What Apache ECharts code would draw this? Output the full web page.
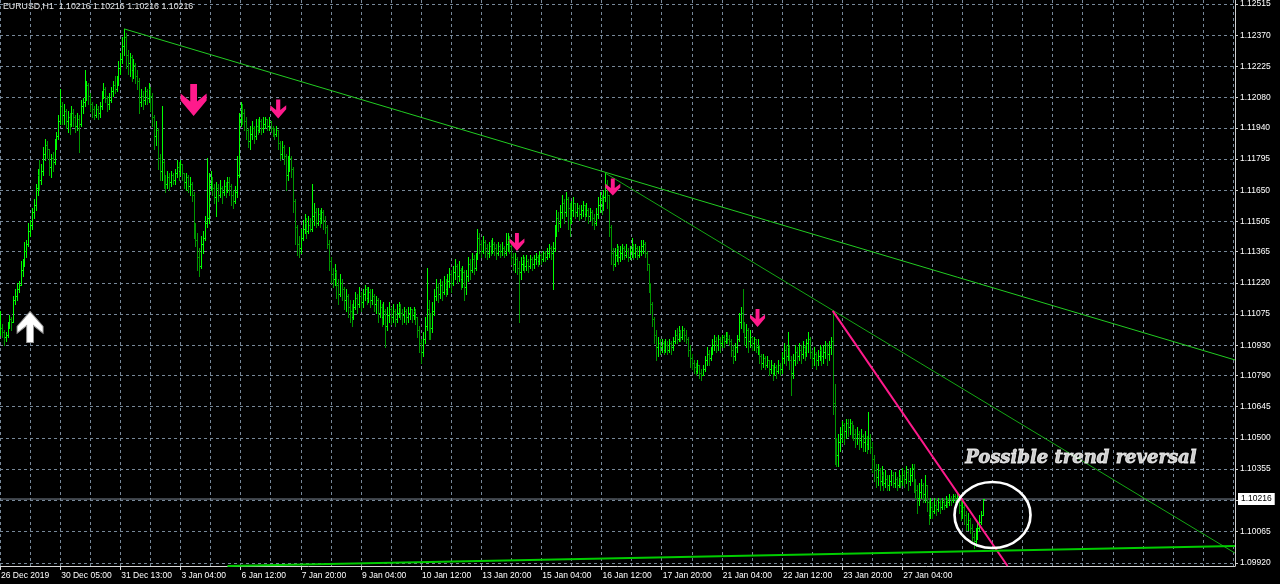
<!DOCTYPE html>
<html><head><meta charset="utf-8">
<script src="https://cdn.jsdelivr.net/npm/echarts@6/dist/echarts.min.js"></script>
<style>html,body{margin:0;padding:0;background:#000;}#c{width:1280px;height:584px;}</style>
</head><body><div id="c"></div>
<script>
// ---------- data ----------
const symbolTitle = 'EURUSD,H1  1.10216 1.10216 1.10216 1.10216';
const timeLabels = ['26 Dec 2019','30 Dec 05:00','31 Dec 13:00','3 Jan 04:00','6 Jan 12:00','7 Jan 20:00','9 Jan 04:00','10 Jan 12:00','13 Jan 20:00','15 Jan 04:00','16 Jan 12:00','17 Jan 20:00','21 Jan 04:00','22 Jan 12:00','23 Jan 20:00','27 Jan 04:00','28 Jan 12:00'];
const barsPerLabel = 32;
const barsPerGrid = 16;
const barSlots = 658;
const priceMin = 1.09905;
const priceMax = 1.12534;
const yTickValues = [1.09920,1.10065,1.10210,1.10355,1.10500,1.10645,1.10790,1.10930,1.11075,1.11220,1.11365,1.11505,1.11650,1.11795,1.11940,1.12080,1.12225,1.12370,1.12515];
const hiddenTick = 1.10210;
const bidPrice = 1.10216;
const firstOpen = 1.1100;

const closes = [
1.1101,1.1099,1.1097,1.1098,1.1102,1.1105,1.1104,1.1114,1.1116,1.1119,1.1121,1.1128,1.1130,1.1137,1.1140,1.1146,1.1149,1.1155,1.1158,1.1166,
1.1172,1.1170,1.1174,1.1182,1.1186,1.1184,1.1176,1.1180,1.1178,1.1186,1.1190,1.1197,1.1204,1.1200,1.1202,1.1197,1.1199,1.1196,1.1201,1.1199,
1.1195,1.1198,1.1196,1.1204,1.1206,1.1210,1.1214,1.1209,1.1205,1.1203,1.1200,1.1203,1.1201,1.1204,1.1209,1.1212,1.1208,1.1205,1.1207,1.1211,
1.1214,1.1212,1.1216,1.1222,1.1226,1.1232,1.1236,1.1228,1.1224,1.1227,1.1221,1.1223,1.1218,1.1216,1.1206,1.1209,1.1207,1.1211,1.1208,1.1212,
1.1209,1.1199,1.1190,1.1193,1.1180,1.1174,1.1178,1.1170,1.1168,1.1171,1.1169,1.1172,1.1170,1.1173,1.1176,1.1174,1.1177,1.1173,1.1169,1.1171,
1.1167,1.1168,1.1163,1.1148,1.1142,1.1134,1.1130,1.1140,1.1143,1.1150,1.1152,1.1168,1.1170,1.1166,1.1162,1.1166,1.1163,1.1166,1.1164,1.1167,
1.1165,1.1169,1.1167,1.1163,1.1160,1.1164,1.1172,1.1198,1.1203,1.1201,1.1197,1.1193,1.1188,1.1191,1.1194,1.1190,1.1195,1.1193,1.1197,1.1194,
1.1196,1.1198,1.1195,1.1197,1.1194,1.1193,1.1191,1.1193,1.1187,1.1182,1.1185,1.1181,1.1172,1.1177,1.1180,1.1175,1.1160,1.1148,1.1140,1.1138,
1.1143,1.1147,1.1150,1.1146,1.1149,1.1147,1.1153,1.1155,1.1150,1.1154,1.1152,1.1155,1.1151,1.1148,1.1140,1.1132,1.1126,1.1124,1.1127,1.1121,
1.1117,1.1122,1.1119,1.1114,1.1116,1.1111,1.1109,1.1106,1.1111,1.1115,1.1112,1.1116,1.1113,1.1117,1.1119,1.1115,1.1118,1.1114,1.1116,1.1112,
1.1114,1.1108,1.1111,1.1106,1.1109,1.1102,1.1107,1.1110,1.1106,1.1109,1.1105,1.1108,1.1111,1.1108,1.1107,1.1109,1.1106,1.1108,1.1110,1.1107,
1.1109,1.1106,1.1100,1.1094,1.1090,1.1096,1.1102,1.1110,1.1105,1.1101,1.1109,1.1116,1.1120,1.1117,1.1121,1.1118,1.1122,1.1119,1.1123,1.1126,
1.1122,1.1127,1.1130,1.1125,1.1128,1.1124,1.1127,1.1120,1.1125,1.1131,1.1128,1.1133,1.1129,1.1134,1.1143,1.1140,1.1137,1.1141,1.1138,1.1136,
1.1139,1.1137,1.1140,1.1138,1.1136,1.1139,1.1137,1.1138,1.1136,1.1140,1.1142,1.1139,1.1134,1.1131,1.1133,1.1129,1.1127,1.1131,1.1133,1.1130,
1.1132,1.1130,1.1133,1.1131,1.1133,1.1134,1.1132,1.1135,1.1133,1.1136,1.1134,1.1136,1.1138,1.1136,1.1138,1.1146,1.1152,1.1150,1.1155,1.1159,
1.1155,1.1161,1.1157,1.1152,1.1156,1.1159,1.1155,1.1157,1.1154,1.1156,1.1158,1.1154,1.1156,1.1153,1.1155,1.1152,1.1150,1.1154,1.1158,1.1161,
1.1158,1.1162,1.1168,1.1163,1.1148,1.1136,1.1131,1.1135,1.1138,1.1134,1.1136,1.1138,1.1135,1.1137,1.1134,1.1137,1.1139,1.1136,1.1138,1.1135,
1.1137,1.1139,1.1140,1.1136,1.1131,1.1121,1.1112,1.1105,1.1098,1.1092,1.1094,1.1092,1.1094,1.1091,1.1093,1.1091,1.1094,1.1092,1.1095,1.1098,
1.1096,1.1099,1.1097,1.1100,1.1098,1.1096,1.1091,1.1087,1.1085,1.1083,1.1081,1.1084,1.1080,1.1079,1.1082,1.1086,1.1089,1.1087,1.1090,1.1093,
1.1095,1.1093,1.1096,1.1094,1.1097,1.1095,1.1097,1.1096,1.1095,1.1091,1.1088,1.1092,1.1096,1.1104,1.1108,1.1102,1.1097,1.1100,1.1095,1.1097,
1.1094,1.1096,1.1092,1.1093,1.1088,1.1085,1.1087,1.1084,1.1086,1.1082,1.1084,1.1080,1.1083,1.1081,1.1084,1.1082,1.1087,1.1091,1.1088,1.1092,
1.1086,1.1080,1.1086,1.1090,1.1088,1.1091,1.1089,1.1092,1.1090,1.1094,1.1096,1.1090,1.1087,1.1089,1.1086,1.1088,1.1091,1.1088,1.1090,1.1093,
1.1089,1.1092,1.1095,1.1066,1.1045,1.1042,1.1048,1.1052,1.1056,1.1053,1.1057,1.1055,1.1057,1.1054,1.1052,1.1050,1.1052,1.1049,1.1051,1.1048,
1.1050,1.1047,1.1050,1.1046,1.1040,1.1035,1.1032,1.1035,1.1030,1.1033,1.1029,1.1031,1.1028,1.1030,1.1033,1.1029,1.1031,1.1028,1.1032,1.1030,
1.1033,1.1031,1.1034,1.1030,1.1033,1.1036,1.1030,1.1026,1.1022,1.1025,1.1028,1.1024,1.1028,1.1020,1.1014,1.1018,1.1016,1.1019,1.1017,1.1020,
1.1018,1.1020,1.1019,1.1021,1.1020,1.1022,1.1021,1.1023,1.1022,1.1023,1.1019,1.1016,1.1018,1.1014,1.1010,1.1012,1.1008,1.1004,1.1002,1.1005,
1.1008,1.1011,1.1014,1.10216];

const highs = [
1.1109,1.1103,1.1100,1.1099,1.1104,1.1107,1.1106,1.1116,1.1119,1.1122,1.1123,1.1132,1.1133,1.1141,1.1142,1.1150,1.1151,1.1157,1.1161,1.1168,
1.1175,1.1179,1.1177,1.1185,1.1189,1.1188,1.1184,1.1182,1.1183,1.1189,1.1192,1.1200,1.1212,1.1206,1.1205,1.1203,1.1202,1.1201,1.1204,1.1203,
1.1200,1.1201,1.1200,1.1207,1.1208,1.1221,1.1216,1.1215,1.1210,1.1206,1.1204,1.1205,1.1204,1.1206,1.1211,1.1215,1.1213,1.1209,1.1210,1.1213,
1.1216,1.1218,1.1218,1.1225,1.1229,1.1236,1.1240,1.1238,1.1230,1.1229,1.1228,1.1226,1.1224,1.1221,1.1217,1.1212,1.1211,1.1213,1.1212,1.1215,
1.1213,1.1210,1.1200,1.1197,1.1194,1.1182,1.1204,1.1179,1.1172,1.1174,1.1173,1.1174,1.1173,1.1175,1.1179,1.1178,1.1179,1.1177,1.1173,1.1173,
1.1172,1.1171,1.1169,1.1164,1.1150,1.1145,1.1138,1.1144,1.1146,1.1153,1.1180,1.1173,1.1174,1.1171,1.1168,1.1169,1.1168,1.1170,1.1167,1.1170,
1.1169,1.1171,1.1171,1.1168,1.1165,1.1167,1.1181,1.1201,1.1206,1.1205,1.1203,1.1199,1.1194,1.1195,1.1197,1.1195,1.1198,1.1198,1.1199,1.1198,
1.1199,1.1199,1.1198,1.1199,1.1197,1.1195,1.1194,1.1195,1.1193,1.1188,1.1188,1.1186,1.1182,1.1181,1.1185,1.1181,1.1176,1.1161,1.1149,1.1144,
1.1147,1.1151,1.1154,1.1152,1.1153,1.1152,1.1168,1.1159,1.1157,1.1157,1.1156,1.1157,1.1156,1.1153,1.1149,1.1142,1.1134,1.1129,1.1131,1.1128,
1.1124,1.1126,1.1124,1.1120,1.1119,1.1117,1.1114,1.1112,1.1114,1.1118,1.1117,1.1120,1.1118,1.1119,1.1121,1.1120,1.1120,1.1119,1.1119,1.1117,
1.1116,1.1115,1.1114,1.1112,1.1113,1.1110,1.1111,1.1113,1.1111,1.1112,1.1110,1.1112,1.1113,1.1112,1.1110,1.1111,1.1110,1.1111,1.1111,1.1110,
1.1111,1.1110,1.1106,1.1102,1.1096,1.1099,1.1106,1.1129,1.1114,1.1108,1.1113,1.1119,1.1124,1.1122,1.1124,1.1123,1.1125,1.1124,1.1126,1.1129,
1.1128,1.1130,1.1133,1.1131,1.1132,1.1129,1.1130,1.1128,1.1128,1.1134,1.1133,1.1136,1.1135,1.1136,1.1147,1.1145,1.1142,1.1144,1.1142,1.1140,
1.1141,1.1142,1.1143,1.1141,1.1140,1.1141,1.1140,1.1141,1.1139,1.1145,1.1145,1.1144,1.1140,1.1136,1.1136,1.1134,1.1132,1.1134,1.1135,1.1134,
1.1135,1.1133,1.1135,1.1134,1.1135,1.1136,1.1135,1.1137,1.1136,1.1137,1.1137,1.1138,1.1140,1.1139,1.1141,1.1149,1.1156,1.1155,1.1158,1.1163,
1.1161,1.1164,1.1162,1.1159,1.1160,1.1162,1.1159,1.1159,1.1158,1.1158,1.1160,1.1158,1.1159,1.1157,1.1157,1.1156,1.1154,1.1157,1.1162,1.1164,
1.1163,1.1165,1.1173,1.1170,1.1163,1.1149,1.1138,1.1138,1.1140,1.1139,1.1139,1.1140,1.1139,1.1140,1.1138,1.1139,1.1143,1.1140,1.1140,1.1139,
1.1139,1.1142,1.1142,1.1141,1.1137,1.1131,1.1122,1.1113,1.1106,1.1100,1.1097,1.1096,1.1096,1.1095,1.1096,1.1095,1.1096,1.1095,1.1097,1.1100,
1.1101,1.1102,1.1100,1.1102,1.1101,1.1100,1.1097,1.1093,1.1089,1.1086,1.1085,1.1086,1.1084,1.1082,1.1084,1.1088,1.1092,1.1091,1.1092,1.1096,
1.1098,1.1097,1.1098,1.1097,1.1098,1.1098,1.1099,1.1099,1.1098,1.1096,1.1093,1.1094,1.1098,1.1108,1.1111,1.1119,1.1104,1.1103,1.1101,1.1100,
1.1097,1.1097,1.1096,1.1096,1.1093,1.1089,1.1089,1.1088,1.1088,1.1086,1.1086,1.1084,1.1085,1.1084,1.1086,1.1085,1.1090,1.1094,1.1093,1.1099,
1.1093,1.1088,1.1089,1.1093,1.1092,1.1094,1.1093,1.1095,1.1093,1.1096,1.1099,1.1097,1.1091,1.1092,1.1090,1.1091,1.1093,1.1092,1.1093,1.1095,
1.1094,1.1095,1.1097,1.1109,1.1075,1.1050,1.1052,1.1055,1.1058,1.1057,1.1059,1.1059,1.1059,1.1058,1.1056,1.1054,1.1055,1.1053,1.1054,1.1052,
1.1053,1.1051,1.1062,1.1052,1.1048,1.1042,1.1038,1.1038,1.1036,1.1037,1.1034,1.1035,1.1033,1.1033,1.1035,1.1034,1.1034,1.1032,1.1035,1.1033,
1.1036,1.1035,1.1037,1.1035,1.1036,1.1038,1.1038,1.1031,1.1028,1.1029,1.1031,1.1029,1.1033,1.1028,1.1021,1.1022,1.1020,1.1022,1.1021,1.1022,
1.1021,1.1022,1.1021,1.1023,1.1022,1.1024,1.1023,1.1024,1.1024,1.1025,1.1024,1.1022,1.1021,1.1019,1.1016,1.1015,1.1013,1.1010,1.1006,1.1008,
1.1011,1.1014,1.1016,1.10216];

const lows = [
1.1098,1.1097,1.1093,1.1095,1.1097,1.1101,1.1100,1.1104,1.1112,1.1114,1.1118,1.1121,1.1125,1.1130,1.1134,1.1139,1.1144,1.1147,1.1152,1.1156,
1.1163,1.1165,1.1168,1.1172,1.1179,1.1180,1.1172,1.1171,1.1174,1.1177,1.1184,1.1189,1.1196,1.1196,1.1196,1.1194,1.1192,1.1191,1.1195,1.1195,
1.1192,1.1193,1.1183,1.1195,1.1201,1.1204,1.1207,1.1205,1.1202,1.1199,1.1198,1.1199,1.1198,1.1199,1.1203,1.1208,1.1206,1.1202,1.1203,1.1206,
1.1209,1.1210,1.1211,1.1214,1.1219,1.1224,1.1228,1.1222,1.1219,1.1218,1.1216,1.1217,1.1215,1.1212,1.1201,1.1204,1.1203,1.1205,1.1205,1.1206,
1.1202,1.1195,1.1184,1.1186,1.1175,1.1170,1.1170,1.1166,1.1164,1.1166,1.1165,1.1167,1.1168,1.1168,1.1171,1.1170,1.1172,1.1170,1.1166,1.1165,
1.1164,1.1163,1.1160,1.1143,1.1139,1.1128,1.1125,1.1129,1.1136,1.1142,1.1148,1.1150,1.1165,1.1163,1.1159,1.1153,1.1160,1.1162,1.1159,1.1163,
1.1162,1.1164,1.1163,1.1158,1.1157,1.1159,1.1162,1.1171,1.1195,1.1196,1.1193,1.1189,1.1185,1.1184,1.1189,1.1187,1.1189,1.1191,1.1192,1.1191,
1.1192,1.1194,1.1193,1.1193,1.1192,1.1190,1.1189,1.1190,1.1184,1.1179,1.1180,1.1177,1.1165,1.1170,1.1174,1.1171,1.1155,1.1140,1.1135,1.1134,
1.1136,1.1142,1.1145,1.1143,1.1145,1.1146,1.1146,1.1149,1.1148,1.1149,1.1148,1.1150,1.1147,1.1145,1.1138,1.1128,1.1122,1.1120,1.1121,1.1115,
1.1112,1.1116,1.1114,1.1110,1.1109,1.1106,1.1104,1.1102,1.1105,1.1110,1.1108,1.1111,1.1109,1.1111,1.1114,1.1112,1.1113,1.1111,1.1112,1.1109,
1.1108,1.1104,1.1106,1.1102,1.1103,1.1092,1.1100,1.1104,1.1103,1.1104,1.1102,1.1104,1.1106,1.1105,1.1103,1.1104,1.1103,1.1104,1.1105,1.1104,
1.1105,1.1103,1.1097,1.1090,1.1085,1.1088,1.1094,1.1100,1.1096,1.1096,1.1099,1.1107,1.1114,1.1113,1.1115,1.1114,1.1117,1.1116,1.1117,1.1120,
1.1118,1.1121,1.1124,1.1122,1.1123,1.1119,1.1120,1.1114,1.1117,1.1123,1.1124,1.1127,1.1126,1.1128,1.1133,1.1136,1.1134,1.1136,1.1134,1.1133,
1.1134,1.1135,1.1136,1.1135,1.1133,1.1135,1.1134,1.1135,1.1134,1.1135,1.1137,1.1136,1.1131,1.1128,1.1127,1.1126,1.1104,1.1124,1.1128,1.1127,
1.1128,1.1127,1.1129,1.1128,1.1129,1.1131,1.1130,1.1131,1.1131,1.1132,1.1132,1.1133,1.1134,1.1133,1.1119,1.1137,1.1144,1.1146,1.1148,1.1152,
1.1150,1.1153,1.1147,1.1144,1.1150,1.1153,1.1152,1.1153,1.1151,1.1152,1.1153,1.1151,1.1153,1.1150,1.1151,1.1149,1.1147,1.1149,1.1152,1.1155,
1.1154,1.1156,1.1160,1.1157,1.1144,1.1131,1.1128,1.1130,1.1132,1.1131,1.1132,1.1133,1.1133,1.1134,1.1132,1.1133,1.1134,1.1133,1.1134,1.1133,
1.1134,1.1135,1.1136,1.1134,1.1128,1.1118,1.1108,1.1102,1.1094,1.1086,1.1088,1.1089,1.1090,1.1089,1.1090,1.1089,1.1090,1.1089,1.1091,1.1094,
1.1094,1.1095,1.1095,1.1096,1.1095,1.1094,1.1088,1.1083,1.1082,1.1080,1.1079,1.1080,1.1078,1.1077,1.1079,1.1081,1.1084,1.1084,1.1086,1.1089,
1.1091,1.1090,1.1091,1.1090,1.1092,1.1092,1.1094,1.1094,1.1093,1.1088,1.1085,1.1086,1.1090,1.1095,1.1101,1.1099,1.1093,1.1092,1.1090,1.1092,
1.1091,1.1091,1.1090,1.1089,1.1085,1.1082,1.1083,1.1082,1.1083,1.1079,1.1080,1.1077,1.1079,1.1078,1.1080,1.1079,1.1080,1.1085,1.1084,1.1086,
1.1082,1.1070,1.1078,1.1084,1.1085,1.1086,1.1085,1.1087,1.1086,1.1088,1.1090,1.1087,1.1083,1.1084,1.1082,1.1084,1.1086,1.1084,1.1085,1.1087,
1.1084,1.1086,1.1089,1.1061,1.1038,1.1037,1.1037,1.1044,1.1048,1.1047,1.1050,1.1051,1.1052,1.1050,1.1049,1.1046,1.1047,1.1045,1.1046,1.1044,
1.1044,1.1043,1.1045,1.1043,1.1034,1.1030,1.1027,1.1028,1.1026,1.1028,1.1026,1.1027,1.1026,1.1026,1.1028,1.1027,1.1027,1.1026,1.1027,1.1027,
1.1028,1.1027,1.1029,1.1026,1.1028,1.1030,1.1025,1.1022,1.1015,1.1019,1.1022,1.1020,1.1020,1.1016,1.1010,1.1013,1.1013,1.1015,1.1014,1.1016,
1.1015,1.1017,1.1017,1.1018,1.1018,1.1019,1.1019,1.1020,1.1020,1.1020,1.1015,1.1012,1.1013,1.1010,1.1007,1.1007,1.1006,1.1001,1.0999,1.1000,
1.1003,1.1007,1.1010,1.1014];

// trend lines: [bar index, price]
const trendUpper  = [[66, 1.12400], [657, 1.10862]];
const trendMiddle = [[322, 1.11730], [657, 1.09965]];
const trendSteep  = [[443, 1.11090], [536, 1.09905]];
const trendBase   = [[121, 1.09905], [657, 1.09998]];
// signal arrows: [bar index, price]
const signalUp   = [[16, 1.11015]];
const signalDown = [[103, 1.12070], [148, 1.12028], [275, 1.11410], [326, 1.11665], [403, 1.11057]];
const reversalZone = [528, 1.10142];
const noteText = 'Possible trend reversal';
const notePos = [575, 1.10407];

// ---------- chart ----------
const UP = 'rgb(0,255,0)', DOWN = 'rgb(0,150,0)';
const FONT = 'Liberation Sans';
const categories = Array.from({length: barSlots}, (_, i) => String(i));
const ohlc = closes.map((c, i) => [i, i === 0 ? firstOpen : closes[i - 1], c, lows[i], highs[i]]);
const downSizes = [[26, 32], [16, 19], [15, 18], [15, 17], [15, 18]];
const DOWN_PATH = 'path://M37,0 L63,0 L63,55 L100,30 L100,52 L50,100 L0,52 L0,30 L37,55 Z';
const UP_PATH = 'path://M37,100 L63,100 L63,45 L100,70 L100,48 L50,0 L0,48 L0,70 L37,45 Z';
const ELLIPSE = 'path://M0,50 A50,50 0 1,1 100,50 A50,50 0 1,1 0,50 Z';
const gridLine = {show: true, lineStyle: {color: '#778899', width: 1, type: [3, 3]}};
const isLabelIdx = idx => idx % barsPerLabel === 0 && idx / barsPerLabel < timeLabels.length;

const renderBar = (params, api) => {
  const i = api.value(0), o = api.value(1), c = api.value(2), l = api.value(3), h = api.value(4);
  const po = api.coord([i, o]), pc = api.coord([i, c]);
  const x = Math.round(po[0]);
  const yo = Math.round(po[1]), yc = Math.round(pc[1]);
  const yh = Math.round(api.coord([i, h])[1]), yl = Math.round(api.coord([i, l])[1]) + 1;
  const col = c >= o ? UP : DOWN;
  const st = {fill: col};
  return {type: 'group', children: [
    {type: 'rect', shape: {x: x, y: yh, width: 1, height: Math.max(1, yl - yh)}, style: st},
    {type: 'rect', shape: {x: x - 1, y: yo, width: 1, height: 1}, style: st},
    {type: 'rect', shape: {x: x + 1, y: yc, width: 1, height: 1}, style: st}
  ]};
};

const trend = (data, color, width) => ({
  type: 'line', data, symbol: 'none', silent: true, z: 4,
  lineStyle: {color, width}, clip: true
});

const chart = echarts.init(document.getElementById('c'), null, {renderer: 'canvas'});
chart.setOption({
  backgroundColor: '#000000',
  animation: false,
  title: {
    text: symbolTitle, left: 3, top: 2, padding: 0,
    textStyle: {color: '#e6e6e6', fontSize: 8.8, fontWeight: 'normal', fontFamily: FONT}
  },
  grid: {left: 0, right: 45, top: 0, bottom: 18, outerBoundsMode: 'none', containLabel: false},
  xAxis: {
    type: 'category', data: categories, boundaryGap: false,
    axisLine: {show: true, lineStyle: {color: '#d8d8d8', width: 1}},
    axisTick: {show: true, interval: isLabelIdx, length: 4, lineStyle: {color: '#d8d8d8'}},
    axisLabel: {
      interval: isLabelIdx, showMinLabel: true, showMaxLabel: false,
      formatter: (v, idx) => isLabelIdx(idx) ? timeLabels[idx / barsPerLabel] : '',
      align: 'left', margin: 5, padding: [0, 0, 0, 1],
      color: '#ffffff', fontSize: 8.5, fontFamily: FONT
    },
    splitLine: Object.assign({interval: idx => idx % barsPerGrid === 0}, gridLine)
  },
  yAxis: {
    type: 'value', position: 'right', min: priceMin, max: priceMax, scale: true,
    axisLine: {show: true, lineStyle: {color: '#d0d0d0', width: 1}},
    axisTick: {show: true, length: 3, customValues: yTickValues, lineStyle: {color: '#d0d0d0'}},
    axisLabel: {
      customValues: yTickValues, margin: 5,
      formatter: v => Math.abs(v - hiddenTick) < 1e-7 ? '' : v.toFixed(5),
      color: '#ffffff', fontSize: 8.5, fontFamily: FONT
    },
    splitLine: gridLine
  },
  series: [
    {
      type: 'line', silent: true, z: 1, symbol: 'none',
      data: [[0, bidPrice], [barSlots - 1, bidPrice]],
      lineStyle: {color: '#7f8a96', width: 1},
      endLabel: {
        show: true, distance: 3, formatter: () => bidPrice.toFixed(5),
        color: '#000000', backgroundColor: '#ffffff', padding: [2, 3, 1, 3],
        fontSize: 8.5, fontFamily: FONT
      }
    },
    {
      type: 'custom', data: ohlc, z: 2, silent: true,
      encode: {x: 0, y: [1, 2, 3, 4]},
      renderItem: renderBar
    },
    trend(trendUpper, '#22cc22', 1),
    trend(trendMiddle, '#14a814', 1),
    trend(trendSteep, '#ff1a8c', 2),
    trend(trendBase, '#00cc00', 2),
    {
      type: 'scatter', silent: true, z: 6,
      data: signalDown.map((p, k) => ({value: p, symbolSize: downSizes[k]})),
      symbol: DOWN_PATH, symbolKeepAspect: false,
      itemStyle: {color: '#ff1a8c', opacity: 1}
    },
    {
      type: 'scatter', silent: true, z: 6,
      data: signalUp.map(p => ({value: p, symbolSize: [26, 31]})),
      symbol: UP_PATH, symbolKeepAspect: false,
      itemStyle: {color: '#ffffff', borderColor: '#9a9a9a', borderWidth: 1, opacity: 1}
    },
    {
      type: 'scatter', silent: true, z: 7,
      data: [{value: reversalZone}],
      symbol: ELLIPSE, symbolSize: [76, 66], symbolKeepAspect: false,
      itemStyle: {color: 'rgba(0,0,0,0)', borderColor: '#ffffff', borderWidth: 2.5, opacity: 1}
    },
    {
      type: 'scatter', silent: true, z: 8,
      data: [{value: notePos}],
      symbol: 'circle', symbolSize: 1,
      itemStyle: {color: 'rgba(0,0,0,0)'},
      label: {
        show: true, position: 'inside', formatter: noteText,
        color: '#ffffff', fontFamily: 'DejaVu Serif', fontStyle: 'italic', fontWeight: 'bold', fontSize: 18,
        textBorderColor: '#ffffff', textBorderWidth: 0.8,
        textShadowColor: '#4a4a4a', textShadowOffsetX: 2, textShadowOffsetY: 2, textShadowBlur: 0
      }
    }
  ]
});
</script>
</body></html>
